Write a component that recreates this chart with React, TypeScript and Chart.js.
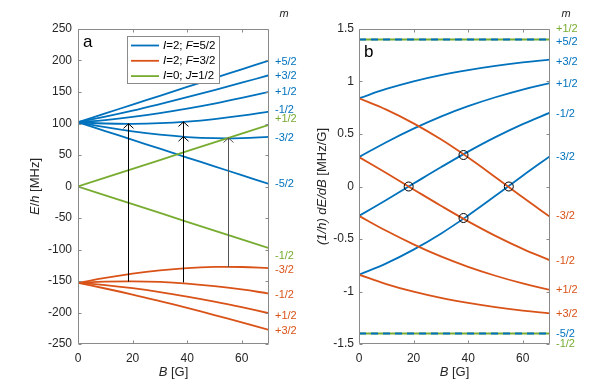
import React, { useEffect, useRef } from "react";
import { Chart, registerables } from "chart.js";

Chart.register(...registerables);

const FONT = "'Liberation Sans', Arial, Helvetica, sans-serif";
const BLUE = "#0072BD";
const ORANGE = "#D95319";
const GREEN = "#77AC30";
const TEXT = "#262626";
const AXIS = "#8a8a8a";

// ---------- data ----------
const B = [0, 10, 20, 30, 40, 50, 60, 70];
const xTicks = [0, 20, 40, 60];
const yTicksA = [-250, -200, -150, -100, -50, 0, 50, 100, 150, 200, 250];
const yTicksB = [-1.5, -1, -0.5, 0, 0.5, 1, 1.5];

// Panel a: E/h [MHz]
const eF52p52 = [102, 116, 130, 144, 158, 172, 186, 200];
const eF52p32 = [102, 110.9, 120.5, 130.9, 141.7, 153.0, 164.7, 176.6];
const eF52p12 = [102, 105.5, 110.4, 116.5, 123.7, 131.7, 140.6, 150.2];
const eF52m12 = [102, 100.0, 99.5, 100.5, 103.1, 107.1, 112.4, 118.9];
const eF52m32 = [102, 94.1, 87.4, 82.2, 78.5, 76.7, 76.8, 78.7];
const eF52m52 = [102, 88, 74, 60, 46, 32, 18, 4];
const eF32m32 = [-153, -145.1, -138.4, -133.2, -129.5, -127.7, -127.8, -129.7];
const eF32m12 = [-153, -151.0, -150.5, -151.5, -154.1, -158.1, -163.4, -169.9];
const eF32p12 = [-153, -156.5, -161.4, -167.5, -174.7, -182.7, -191.6, -201.2];
const eF32p32 = [-153, -161.9, -171.5, -181.9, -192.7, -204.0, -215.7, -227.6];
const eJp12 = [0, 14, 28, 42, 56, 70, 84, 98];
const eJm12 = [0, -14, -28, -42, -56, -70, -84, -98];

// Panel b: (1/h) dE/dB [MHz/G]
const dF52p52 = [1.4, 1.4, 1.4, 1.4, 1.4, 1.4, 1.4, 1.4];
const dF52p32 = [0.84, 0.929, 1.002, 1.061, 1.109, 1.149, 1.182, 1.209];
const dF52p12 = [0.28, 0.422, 0.551, 0.666, 0.765, 0.85, 0.923, 0.984];
const dF52m12 = [-0.28, -0.128, 0.028, 0.183, 0.332, 0.47, 0.594, 0.703];
const dF52m32 = [-0.84, -0.732, -0.601, -0.449, -0.276, -0.089, 0.103, 0.289];
const dF52m52 = [-1.4, -1.4, -1.4, -1.4, -1.4, -1.4, -1.4, -1.4];
const dF32m32 = [0.84, 0.732, 0.601, 0.449, 0.276, 0.089, -0.103, -0.289];
const dF32m12 = [0.28, 0.128, -0.028, -0.183, -0.332, -0.47, -0.594, -0.703];
const dF32p12 = [-0.28, -0.422, -0.551, -0.666, -0.765, -0.85, -0.923, -0.984];
const dF32p32 = [-0.84, -0.929, -1.002, -1.061, -1.109, -1.149, -1.182, -1.209];
const dJp12 = [1.4, 1.4, 1.4, 1.4, 1.4, 1.4, 1.4, 1.4];
const dJm12 = [-1.4, -1.4, -1.4, -1.4, -1.4, -1.4, -1.4, -1.4];

// magic-field markers
const circleB = [18.2, 38.3, 38.3, 54.9];
const circleV = [0, 0.3, -0.3, 0];
const arrowB = [18.2, 38.3, 38.3, 54.9];
const arrowFrom = [-151, -152, -152, -128];
const arrowTo = [99.5, 102.5, 79, 77];
const arrowColor = ["#000000", "#000000", "#000000", "#555555"];

// m labels on the right
const mTextA = ["+5/2", "+3/2", "+1/2", "-1/2", "+1/2", "-3/2", "-5/2", "-1/2", "-3/2", "-1/2", "+1/2", "+3/2"];
const mPosA = [198, 175, 149.5, 121, 107, 77.5, 4, -110, -132.5, -172, -205, -230];
const mColA = [BLUE, BLUE, BLUE, BLUE, GREEN, BLUE, BLUE, GREEN, ORANGE, ORANGE, ORANGE, ORANGE];
const mTextB = ["+1/2", "+5/2", "+3/2", "+1/2", "-1/2", "-3/2", "-3/2", "-1/2", "+1/2", "+3/2", "-5/2", "-1/2"];
const mPosB = [1.5, 1.38, 1.19, 0.976, 0.69, 0.284, -0.285, -0.707, -0.983, -1.21, -1.4, -1.5];
const mColB = [GREEN, BLUE, BLUE, BLUE, BLUE, BLUE, ORANGE, ORANGE, ORANGE, ORANGE, BLUE, GREEN];

const legendSegs: [string, boolean][][] = [
  [["I", true], ["=2; ", false], ["F", true], ["=5/2", false]],
  [["I", true], ["=2; ", false], ["F", true], ["=3/2", false]],
  [["I", true], ["=0; ", false], ["J", true], ["=1/2", false]],
];
const legendColors = [BLUE, ORANGE, GREEN];

// ---------- helpers ----------
type Seg = [string, boolean];

function drawRich(ctx: CanvasRenderingContext2D, segs: Seg[], x: number, y: number, size: number, align: "left" | "center") {
  const widths = segs.map(([t, it]) => {
    ctx.font = `${it ? "italic " : ""}${size}px ${FONT}`;
    return ctx.measureText(t).width;
  });
  const total = widths.reduce((a, b) => a + b, 0);
  let cx = align === "center" ? x - total / 2 : x;
  ctx.textAlign = "left";
  ctx.textBaseline = "middle";
  segs.forEach(([t, it], i) => {
    ctx.font = `${it ? "italic " : ""}${size}px ${FONT}`;
    ctx.fillText(t, cx, y);
    cx += widths[i];
  });
}

const series = (ys: number[], color: string, extra: any = {}) => ({
  type: "line",
  data: B.map((b, i) => ({ x: b, y: ys[i] })),
  borderColor: color,
  backgroundColor: color,
  borderWidth: 1.8,
  pointRadius: 0,
  tension: 0.4,
  fill: false,
  ...extra,
});

const makeOptions = (yMin: number, yMax: number, yTicks: number[], padding: any, tickPad: number) => ({
  responsive: false,
  animation: false,
  events: [],
  layout: { padding },
  plugins: { legend: { display: false }, tooltip: { enabled: false } },
  scales: {
    x: {
      type: "linear",
      min: 0,
      max: 70,
      grid: { display: false, drawTicks: false },
      border: { display: false },
      afterBuildTicks: (s: any) => {
        s.ticks = xTicks.map((v) => ({ value: v }));
      },
      afterFit: (s: any) => {
        s.height = 43;
      },
      ticks: {
        padding: 7,
        color: TEXT,
        font: { family: FONT, size: 12 },
        maxRotation: 0,
        autoSkip: false,
        callback: (v: any) => String(v),
      },
    },
    y: {
      type: "linear",
      min: yMin,
      max: yMax,
      grid: { display: false, drawTicks: false },
      border: { display: false },
      afterBuildTicks: (s: any) => {
        s.ticks = yTicks.map((v) => ({ value: v }));
      },
      afterFit: (s: any) => {
        s.width = 50;
      },
      ticks: {
        padding: tickPad,
        color: TEXT,
        font: { family: FONT, size: 12 },
        autoSkip: false,
        callback: (v: any) => String(v),
      },
    },
  },
});

const framePlugin = (yTicks: number[]) => ({
  id: "frame",
  afterDatasetsDraw(chart: any) {
    const { ctx, chartArea: ca, scales } = chart;
    const l = Math.round(ca.left) + 0.5;
    const r = Math.round(ca.right) - 0.5;
    const t = Math.round(ca.top) + 0.5;
    const b = Math.round(ca.bottom) - 0.5;
    ctx.save();
    ctx.strokeStyle = AXIS;
    ctx.lineWidth = 1;
    ctx.beginPath();
    ctx.rect(l, t, r - l, b - t);
    const tl = 3;
    xTicks.forEach((v) => {
      const px = Math.round(scales.x.getPixelForValue(v)) + 0.5;
      ctx.moveTo(px, b);
      ctx.lineTo(px, b - tl);
      ctx.moveTo(px, t);
      ctx.lineTo(px, t + tl);
    });
    yTicks.forEach((v) => {
      const py = Math.round(scales.y.getPixelForValue(v)) + 0.5;
      ctx.moveTo(l, py);
      ctx.lineTo(l + tl, py);
      ctx.moveTo(r, py);
      ctx.lineTo(r - tl, py);
    });
    ctx.stroke();
    ctx.restore();
  },
});

const labelsPlugin = (texts: string[], pos: number[], cols: string[], yTitle: Seg[], yTitleX: number, letter: string, letterX: number, letterY: number, mOff: number) => ({
  id: "labels",
  afterDraw(chart: any) {
    const { ctx, chartArea: ca, scales } = chart;
    ctx.save();
    // m labels
    ctx.textAlign = "left";
    ctx.textBaseline = "middle";
    ctx.font = `11px ${FONT}`;
    texts.forEach((t, i) => {
      ctx.fillStyle = cols[i];
      ctx.fillText(t, ca.right + 6, scales.y.getPixelForValue(pos[i]));
    });
    ctx.fillStyle = TEXT;
    ctx.font = `italic 11px ${FONT}`;
    ctx.textAlign = "center";
    ctx.fillText("m", ca.right + mOff, 14);
    // x title
    ctx.fillStyle = TEXT;
    drawRich(ctx, [["B", true], [" [G]", false]], (ca.left + ca.right) / 2, 372, 13, "center");
    // y title
    ctx.save();
    ctx.translate(yTitleX, (ca.top + ca.bottom) / 2);
    ctx.rotate(-Math.PI / 2);
    drawRich(ctx, yTitle, 0, 0, 13, "center");
    ctx.restore();
    // panel letter
    ctx.fillStyle = "#000";
    ctx.font = `17px ${FONT}`;
    ctx.textAlign = "left";
    ctx.textBaseline = "alphabetic";
    ctx.fillText(letter, letterX, letterY);
    ctx.restore();
  },
});

const arrowPlugin = {
  id: "arrows",
  afterDatasetsDraw(chart: any) {
    const { ctx, scales } = chart;
    ctx.save();
    ctx.lineWidth = 1;
    arrowB.forEach((bv, i) => {
      const x = Math.round(scales.x.getPixelForValue(bv)) + 0.5;
      const y1 = scales.y.getPixelForValue(arrowFrom[i]);
      const y2 = scales.y.getPixelForValue(arrowTo[i]);
      ctx.strokeStyle = arrowColor[i];
      ctx.beginPath();
      ctx.moveTo(x, y1);
      ctx.lineTo(x, y2);
      ctx.moveTo(x - 5, y2 + 4.5);
      ctx.lineTo(x, y2);
      ctx.lineTo(x + 5, y2 + 4.5);
      ctx.stroke();
    });
    ctx.restore();
  },
};

const legendPlugin = {
  id: "customLegend",
  afterDraw(chart: any) {
    const { ctx, chartArea: ca } = chart;
    const x0 = ca.left + 49;
    const y0 = ca.top + 7;
    const w = 92;
    const h = 47;
    ctx.save();
    ctx.fillStyle = "#ffffff";
    ctx.fillRect(x0, y0, w, h);
    ctx.strokeStyle = AXIS;
    ctx.lineWidth = 1;
    ctx.strokeRect(Math.round(x0) + 0.5, Math.round(y0) + 0.5, w, h);
    legendSegs.forEach((segs, i) => {
      const y = y0 + 9.5 + i * 15.3;
      ctx.strokeStyle = legendColors[i];
      ctx.lineWidth = 1.8;
      ctx.beginPath();
      ctx.moveTo(x0 + 4, y);
      ctx.lineTo(x0 + 32, y);
      ctx.stroke();
      ctx.fillStyle = "#000";
      drawRich(ctx, segs, x0 + 36, y, 11.5, "left");
    });
    ctx.restore();
  },
};

export default function App() {
  const refA = useRef<HTMLCanvasElement | null>(null);
  const refB = useRef<HTMLCanvasElement | null>(null);

  useEffect(() => {
    if (!refA.current || !refB.current) return;

    const chartA = new Chart(refA.current, {
      type: "line",
      data: {
        datasets: [
          series(eF52p52, BLUE, { order: 5 }),
          series(eF52p32, BLUE, { order: 5 }),
          series(eF52p12, BLUE, { order: 5 }),
          series(eF52m12, BLUE, { order: 5 }),
          series(eF52m32, BLUE, { order: 5 }),
          series(eF52m52, BLUE, { order: 5 }),
          series(eF32m32, ORANGE, { order: 4 }),
          series(eF32m12, ORANGE, { order: 4 }),
          series(eF32p12, ORANGE, { order: 4 }),
          series(eF32p32, ORANGE, { order: 4 }),
          series(eJp12, GREEN, { order: 3, tension: 0 }),
          series(eJm12, GREEN, { order: 3, tension: 0 }),
        ] as any,
      },
      options: makeOptions(-250, 250, yTicksA, { left: 28, right: 31, top: 29, bottom: 0 }, 6) as any,
      plugins: [
        framePlugin(yTicksA),
        arrowPlugin,
        legendPlugin,
        labelsPlugin(
          mTextA, mPosA, mColA,
          [["E", true], ["/", false], ["h", true], [" [MHz]", false]],
          35, "a", 83, 47, 15
        ),
      ] as any,
    });

    const chartB = new Chart(refB.current, {
      type: "line",
      data: {
        datasets: [
          {
            type: "scatter",
            data: circleB.map((b, i) => ({ x: b, y: circleV[i] })),
            borderColor: "#000",
            backgroundColor: "rgba(0,0,0,0)",
            pointRadius: 4.5,
            pointBorderWidth: 1,
            showLine: false,
            order: 0,
          },
          series(dF52p52, BLUE, { order: 1, borderDash: [7, 5], tension: 0 }),
          series(dF52m52, BLUE, { order: 1, borderDash: [7, 5], tension: 0 }),
          series(dJp12, GREEN, { order: 2, tension: 0 }),
          series(dJm12, GREEN, { order: 2, tension: 0 }),
          series(dF32m32, ORANGE, { order: 3 }),
          series(dF32m12, ORANGE, { order: 3 }),
          series(dF32p12, ORANGE, { order: 3 }),
          series(dF32p32, ORANGE, { order: 3 }),
          series(dF52p32, BLUE, { order: 4 }),
          series(dF52p12, BLUE, { order: 4 }),
          series(dF52m12, BLUE, { order: 4 }),
          series(dF52m32, BLUE, { order: 4 }),
        ] as any,
      },
      options: makeOptions(-1.5, 1.5, yTicksB, { left: 9, right: 48, top: 29, bottom: 0 }, 5) as any,
      plugins: [
        framePlugin(yTicksB),
        labelsPlugin(
          mTextB, mPosB, mColB,
          [["(1/h) dE/dB", true], [" [MHz/G]", false]],
          22, "b", 64, 57, 16
        ),
      ] as any,
    });

    return () => {
      chartA.destroy();
      chartB.destroy();
    };
  }, []);

  return (
    <div style={{ position: "absolute", left: 0, top: 0, width: 598, height: 387, background: "#fff" }}>
      <canvas ref={refA} width={300} height={387} style={{ position: "absolute", left: 0, top: 0, width: 300, height: 387 }} />
      <canvas ref={refB} width={298} height={387} style={{ position: "absolute", left: 300, top: 0, width: 298, height: 387 }} />
    </div>
  );
}
